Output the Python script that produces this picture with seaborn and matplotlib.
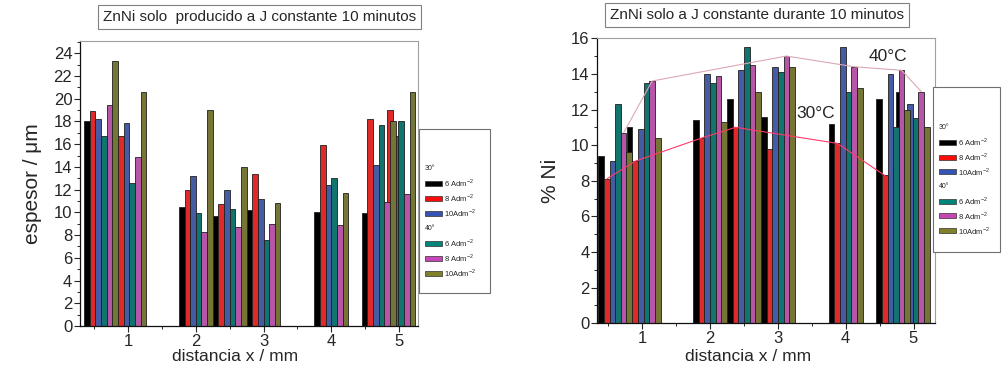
import numpy as np
import pandas as pd
import matplotlib
matplotlib.use('Agg')
import matplotlib.pyplot as plt
from matplotlib.patches import Rectangle
from matplotlib.ticker import MultipleLocator
import seaborn as sns

# posiciones de los grupos de barras (distancia x / mm)
distancias = [0.6, 1.02, 2.0, 2.5, 3.0, 4.0, 4.7, 4.99]
series = ['30° 6', '30° 8', '30° 10', '40° 6', '40° 8', '40° 10']
etiquetas = ['6 Adm$^{-2}$', '8 Adm$^{-2}$', '10Adm$^{-2}$'] * 2
colores = ['#000000', '#ff0a0a', '#3553b5', '#00857d', '#c746b5', '#80802a']

nan = np.nan
# espesor / um
esp_30_6 = [18.0, nan, 10.5, 9.7, 10.2, 10.0, 9.9, nan]
esp_30_8 = [18.9, 16.7, 12.0, 10.7, 13.4, 15.9, 18.2, 19.0]
esp_30_10 = [18.2, 17.9, 13.2, 12.0, 11.2, 12.4, 14.2, 16.7]
esp_40_6 = [16.7, 12.6, 9.9, 10.3, 7.6, 13.0, 17.7, 18.0]
esp_40_8 = [19.4, 14.9, 8.3, 8.7, 9.0, 8.9, 10.9, 11.6]
esp_40_10 = [23.3, 20.6, 19.0, 14.0, 10.8, 11.7, 18.0, 20.6]

# % Ni
ni_30_6 = [9.4, 11.0, 11.4, 12.6, 11.6, 11.2, 12.6, 13.0]
ni_30_8 = [8.1, 9.1, 10.4, 11.0, 9.8, 10.1, 8.3, nan]
ni_30_10 = [9.1, 10.9, 14.0, 14.2, 14.4, 15.5, 14.0, 12.3]
ni_40_6 = [12.3, 13.5, 13.5, 15.5, 14.1, 13.0, 11.0, 11.5]
ni_40_8 = [10.7, 13.6, 13.9, 14.5, 15.0, 14.4, 14.2, 13.0]
ni_40_10 = [9.6, 10.4, 11.3, 13.0, 14.4, 13.2, 12.0, 11.0]

# grupos unidos por las lineas de tendencia
linea_30 = [0, 1, 2, 3, 5, 6]   # sobre 30° 8 Adm-2
linea_40 = [0, 1, 4, 5, 6, 7]   # sobre 40° 8 Adm-2

sns.set_style('ticks')
plt.rcParams['font.family'] = ['Liberation Sans', 'DejaVu Sans']
plt.rcParams['mathtext.fontset'] = 'custom'
plt.rcParams['mathtext.rm'] = 'Liberation Sans'

W, H = 1002, 369
w = 1 / 12  # ancho de cada barra


def offset(k):
    return (k - 2.5) * w


def tabla(valores):
    filas = []
    for k, serie in enumerate(series):
        for d, v in zip(distancias, valores[k]):
            if not np.isnan(v):
                filas.append((d + offset(k), v, serie))
    return pd.DataFrame(filas, columns=['x', 'valor', 'serie'])


def barras(ax, valores):
    df = tabla(valores)
    nw = np.diff(np.unique(df['x'])).min()
    sns.barplot(data=df, x='x', y='valor', hue='serie', hue_order=series,
                palette=colores, native_scale=True, dodge=False, width=w / nw,
                errorbar=None, edgecolor='#202020', linewidth=0.6,
                legend=False, ax=ax)


def estilo(ax, xlim, ylim, ylabel, xlab_pos):
    ax.set_xlim(*xlim)
    ax.set_ylim(*ylim)
    ax.xaxis.set_major_locator(MultipleLocator(1))
    ax.xaxis.set_minor_locator(MultipleLocator(0.5))
    ax.yaxis.set_major_locator(MultipleLocator(2))
    ax.yaxis.set_minor_locator(MultipleLocator(1))
    ax.tick_params(which='major', length=4, width=0.8, pad=1.5, labelsize=12)
    ax.tick_params(which='minor', length=2.5, width=0.7)
    for s in ['top', 'right']:
        ax.spines[s].set_color('#a0a0a0')
        ax.spines[s].set_linewidth(0.8)
    for s in ['left', 'bottom']:
        ax.spines[s].set_color('#101010')
        ax.spines[s].set_linewidth(0.9)
    ax.set_xlabel('distancia x / mm', fontsize=12.5)
    ax.xaxis.set_label_coords(*xlab_pos)
    ax.set_ylabel(ylabel, fontsize=15, labelpad=8)


def px(x, y):
    return x / W, 1 - y / H


def leyenda(fig, caja, y0, paso, xp):
    x0, y0c, x1, y1c = caja
    fig.add_artist(Rectangle(px(x0, y1c), (x1 - x0) / W, (y1c - y0c) / H,
                             transform=fig.transFigure, fc='white',
                             ec='#707070', lw=0.8))
    fila = 0
    for k in range(6):
        if k % 3 == 0:
            fig.text(*px(xp, y0 + fila * paso), series[k].split()[0],
                     fontsize=5, va='center', ha='left')
            fila += 1
        y = y0 + fila * paso
        fig.add_artist(Rectangle(px(xp, y + 2.5), 17 / W, 5 / H,
                                 transform=fig.transFigure, fc=colores[k],
                                 ec='#303030', lw=0.5))
        fig.text(*px(xp + 19, y), etiquetas[k], fontsize=5.5,
                 va='center', ha='left')
        fila += 1


fig = plt.figure(figsize=(W / 100, H / 100), dpi=100)
ax1 = fig.add_axes([80 / W, 1 - 326 / H, 338 / W, 285.3 / H])
ax2 = fig.add_axes([597.3 / W, 1 - 323.3 / H, 337.7 / W, 285.6 / H])

esp = [esp_30_6, esp_30_8, esp_30_10, esp_40_6, esp_40_8, esp_40_10]
ni = [ni_30_6, ni_30_8, ni_30_10, ni_40_6, ni_40_8, ni_40_10]

barras(ax1, esp)
estilo(ax1, (0.29, 5.28), (0, 25.1), 'espesor / μm', (0.459, -0.08))

barras(ax2, ni)
# lineas de tendencia 30°C y 40°C
ax2.plot([distancias[i] + offset(1) for i in linea_30], [ni_30_8[i] for i in linea_30],
         color='#ff3a6a', lw=0.8)
ax2.plot([distancias[i] + offset(4) for i in linea_40], [ni_40_8[i] for i in linea_40],
         color='#dba8b4', lw=0.8)
ax2.text(3.56, 11.8, '30°C', fontsize=12.5, ha='center', va='center')
ax2.text(4.63, 14.95, '40°C', fontsize=12.5, ha='center', va='center')
estilo(ax2, (0.336, 5.317), (0, 16.03), '% Ni', (0.447, -0.09))

fig.text(*px(259.5, 17), 'ZnNi solo  producido a J constante 10 minutos',
         fontsize=11, ha='center', va='center',
         bbox=dict(boxstyle='square,pad=0.35', fc='white', ec='#808080', lw=0.8))
fig.text(*px(757, 15), 'ZnNi solo a J constante durante 10 minutos',
         fontsize=11, ha='center', va='center',
         bbox=dict(boxstyle='square,pad=0.3', fc='white', ec='#808080', lw=0.8))

leyenda(fig, (418.5, 129, 490, 293), 168, 15, 425)
leyenda(fig, (933.3, 86.7, 1000, 251.7), 127.7, 14.7, 939)

fig.savefig('out.png', dpi=100)
